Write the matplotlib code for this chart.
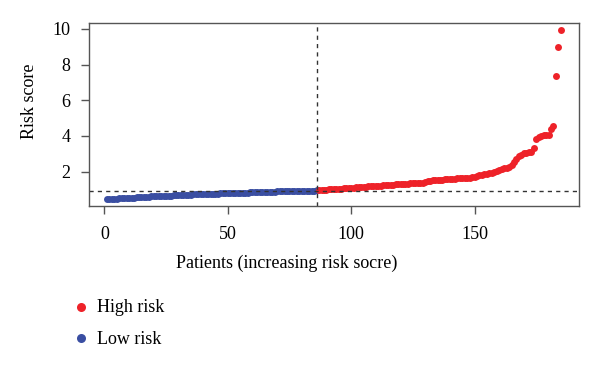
import numpy as np
import matplotlib
matplotlib.use("Agg")
import matplotlib.pyplot as plt

plt.rcParams['font.family'] = ['Liberation Serif', 'DejaVu Serif']

# sorted risk scores, low group then high group
low_risk = [0.45, 0.46, 0.47, 0.48, 0.49, 0.50, 0.51, 0.52, 0.53, 0.54,
            0.55, 0.55, 0.56, 0.57, 0.58, 0.58, 0.59, 0.60, 0.61, 0.61,
            0.62, 0.63, 0.63, 0.64, 0.65, 0.65, 0.66, 0.67, 0.67, 0.68,
            0.69, 0.69, 0.70, 0.70, 0.71, 0.72, 0.72, 0.73, 0.73, 0.74,
            0.74, 0.75, 0.75, 0.76, 0.77, 0.77, 0.78, 0.78, 0.79, 0.79,
            0.80, 0.80, 0.81, 0.81, 0.82, 0.82, 0.83, 0.83, 0.84, 0.84,
            0.85, 0.85, 0.86, 0.86, 0.87, 0.87, 0.88, 0.88, 0.88, 0.89,
            0.89, 0.90, 0.90, 0.90, 0.91, 0.91, 0.92, 0.92, 0.92, 0.93,
            0.93, 0.93, 0.94, 0.94, 0.94, 0.95]
high_risk = [0.96, 0.97, 0.98, 0.99, 1.00, 1.01, 1.02, 1.03, 1.04, 1.05, 1.06, 1.07, 1.08, 1.10,
             1.11, 1.12, 1.13, 1.14, 1.15, 1.16, 1.17, 1.18, 1.19, 1.20,
             1.21, 1.22, 1.23, 1.24, 1.25, 1.26, 1.27, 1.28, 1.29, 1.30,
             1.31, 1.32, 1.33, 1.34, 1.35, 1.36, 1.37, 1.38, 1.39, 1.40,
             1.47, 1.50, 1.52, 1.53, 1.54, 1.55, 1.56, 1.57, 1.58, 1.59,
             1.60, 1.61, 1.62, 1.63, 1.64, 1.65, 1.66, 1.67, 1.69, 1.72,
             1.76, 1.80, 1.83, 1.85, 1.87, 1.90, 1.95, 2.00, 2.05, 2.10,
             2.14, 2.18, 2.22, 2.27, 2.40, 2.55, 2.70, 2.85, 2.95, 3.02,
             3.06, 3.10, 3.12, 3.30, 3.85, 3.95, 4.02, 4.05, 4.05, 4.06,
             4.38, 4.55, 7.35, 8.98, 9.95]
cutoff = 0.94
x_ticks = [0, 50, 100, 150]
y_ticks = [2, 4, 6, 8, 10]

RED = "#EE2229"
BLUE = "#3A4EA2"
GREY = "#555555"

n_low = len(low_risk)
n_all = n_low + len(high_risk)
x_low = np.arange(1, n_low + 1)
x_high = np.arange(n_low + 1, n_all + 1)

fig = plt.figure(figsize=(6, 3.68), dpi=100)
ax = fig.add_axes([0.148, 0.44, 0.817, 0.4973])

ax.plot(x_low, low_risk, 'o', color=BLUE, ms=5, mec='none')
ax.plot(x_high, high_risk, 'o', color=RED, ms=5, mec='none')
ax.axhline(cutoff, color="#333333", lw=1, ls=(0, (3, 3)))
ax.axvline(n_low, color="#333333", lw=1, ls=(0, (3, 3)))

# R style 4% padding
allv = low_risk + high_risk
xr = n_all - 1
yr = max(allv) - min(allv)
ax.set_xlim(1 - 0.04 * xr, n_all + 0.04 * xr)
ax.set_ylim(min(allv) - 0.04 * yr, max(allv) + 0.04 * yr)
ax.set_xticks(x_ticks)
ax.set_yticks(y_ticks)

for s in ax.spines.values():
    s.set_color(GREY)
    s.set_linewidth(1)
ax.tick_params(axis='both', length=6, width=1, color=GREY, labelsize=13)
ax.tick_params(axis='x', pad=8)
ax.tick_params(axis='y', pad=7)

fig.text(0.478, 0.285, "Patients (increasing risk socre)", ha='center', va='center', fontsize=13)
fig.text(0.05, 0.725, "Risk score", ha='center', va='center', rotation=90, fontsize=13)

# legend
fig.text(0.161, 1 - 308 / 368, "High risk", ha='left', va='center', fontsize=13)
fig.text(0.161, 1 - 339 / 368, "Low risk", ha='left', va='center', fontsize=13)
fig.lines.append(plt.Line2D([81 / 600], [1 - 307 / 368], marker='o', color=RED, ms=6.5, mec='none',
                            transform=fig.transFigure))
fig.lines.append(plt.Line2D([81 / 600], [1 - 338 / 368], marker='o', color=BLUE, ms=6.5, mec='none',
                            transform=fig.transFigure))

fig.savefig("out.png", dpi=100)
